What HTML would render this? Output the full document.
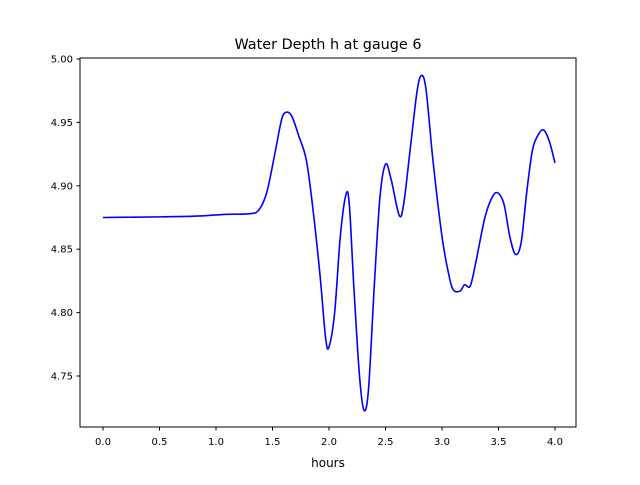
<!DOCTYPE html>
<html><head><meta charset="utf-8"><style>
body{margin:0;background:#fff;}
svg text{font-family:"DejaVu Sans","Liberation Sans",sans-serif;fill:#000;}
</style></head><body>
<svg id="chart" width="640" height="480" viewBox="0 0 640 480">
<rect x="0" y="0" width="640" height="480" fill="#fff"/>
<text x="328" y="49" font-size="14.4" text-anchor="middle">Water Depth h at gauge 6</text>
<g id="plot"></g>
<rect x="80" y="58" width="496" height="369" fill="none" stroke="#000" stroke-width="1"/>
<text x="328" y="467" font-size="12" text-anchor="middle">hours</text>
</svg>
<script>
const times=[0.0,0.5,0.8,1.0,1.1,1.3,1.38,1.45,1.52,1.58,1.62,1.67,1.73,1.8,1.86,1.92,1.97,2.0,2.05,2.1,2.15,2.18,2.22,2.27,2.31,2.35,2.4,2.45,2.5,2.55,2.62,2.66,2.72,2.78,2.82,2.86,2.92,3.0,3.06,3.1,3.16,3.2,3.25,3.3,3.38,3.45,3.5,3.55,3.6,3.65,3.7,3.75,3.8,3.85,3.9,3.95,4.0];
const depths=[4.875,4.8755,4.876,4.877,4.8775,4.878,4.881,4.895,4.925,4.952,4.958,4.955,4.94,4.92,4.88,4.83,4.78,4.773,4.80,4.86,4.893,4.885,4.82,4.75,4.723,4.74,4.82,4.89,4.917,4.905,4.877,4.885,4.93,4.975,4.987,4.975,4.92,4.86,4.83,4.818,4.817,4.822,4.821,4.84,4.875,4.892,4.894,4.885,4.86,4.846,4.855,4.895,4.928,4.94,4.944,4.935,4.918];
const xTicks=[0.0,0.5,1.0,1.5,2.0,2.5,3.0,3.5,4.0];
const xTickLabels=["0.0","0.5","1.0","1.5","2.0","2.5","3.0","3.5","4.0"];
const yTicks=[4.75,4.80,4.85,4.90,4.95,5.00];
const yTickLabels=["4.75","4.80","4.85","4.90","4.95","5.00"];
const NS="http://www.w3.org/2000/svg";
const g=document.getElementById('plot');
function xs(t){return 103+t*113;}
function ys(v){return 59+(5.0-v)*1268;}
function mk(tag,attrs){const e=document.createElementNS(NS,tag);for(const k in attrs)e.setAttribute(k,attrs[k]);g.appendChild(e);return e;}
xTicks.forEach((t,i)=>{
 const l=mk('line',{x1:xs(t),x2:xs(t),y1:427,y2:430.5,stroke:'#000'});
 
 
 const tx=mk('text',{x:xs(t),y:445,'font-size':10,'text-anchor':'middle'});
 tx.textContent=xTickLabels[i];
 
 
});
yTicks.forEach((v,i)=>{
 const l=mk('line',{x1:76.5,x2:80,y1:ys(v),y2:ys(v),stroke:'#000'});
 
 
 const tx=mk('text',{x:73,y:ys(v)+3.5,'font-size':10,'text-anchor':'end'});
 tx.textContent=yTickLabels[i];
 
 
});
const P=times.map((t,i)=>[xs(t),ys(depths[i])]);
let d='M'+P[0][0]+','+P[0][1];
for(let i=0;i<P.length-1;i++){
 const p0=P[Math.max(0,i-1)],p1=P[i],p2=P[i+1],p3=P[Math.min(P.length-1,i+2)];
 const c1=[p1[0]+(p2[0]-p0[0])/6,p1[1]+(p2[1]-p0[1])/6];
 const c2=[p2[0]-(p3[0]-p1[0])/6,p2[1]-(p3[1]-p1[1])/6];
 d+=' C'+c1[0]+','+c1[1]+' '+c2[0]+','+c2[1]+' '+p2[0]+','+p2[1];
}
const line=mk('path',{d:d,fill:'none',stroke:'#0000ff','stroke-width':1.6});


</script>
</body></html>
